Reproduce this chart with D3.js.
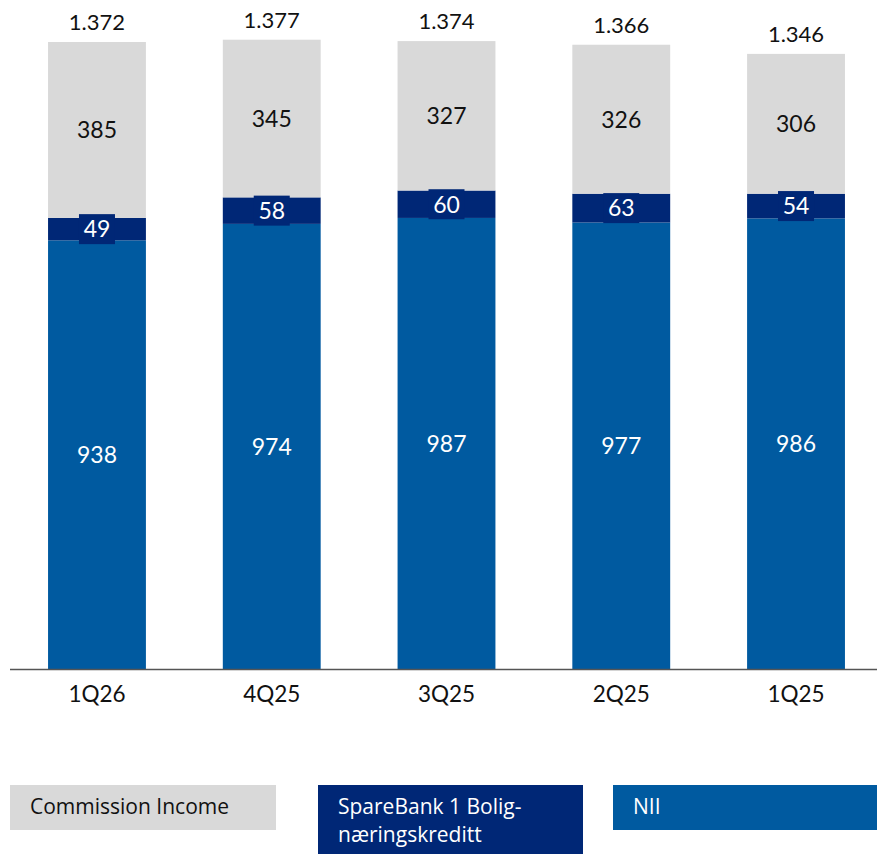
<!DOCTYPE html>
<html>
<head>
<meta charset="utf-8">
<script src="https://cdn.jsdelivr.net/npm/d3@7"></script>
<style>
  body { margin: 0; background: #fff; }
  svg { display: block; font-family: Lato, "Open Sans", sans-serif; }
  .legend-text { font-family: "Open Sans", sans-serif; }
</style>
</head>
<body>
<div id="container"></div>
<script>
const quarters = ["1Q26", "4Q25", "3Q25", "2Q25", "1Q25"];
const nii = [938, 974, 987, 977, 986];
const boligKreditt = [49, 58, 60, 63, 54];
const commission = [385, 345, 327, 326, 306];
const totals = ["1.372", "1.377", "1.374", "1.366", "1.346"];

const colors = { nii: "#005aa0", bolig: "#002776", commission: "#d9d9d9" };

const width = 877, height = 854;
const baseline = 669;

const data = quarters.map((q, i) => ({
    quarter: q,
    nii: nii[i],
    bolig: boligKreditt[i],
    commission: commission[i],
    total: totals[i]
}));

const svg = d3.select("#container").append("svg")
    .attr("width", width)
    .attr("height", height);

const xScale = d3.scaleBand()
    .range([9.6, 883.4])
    .domain(quarters)
    .paddingInner(0.44)
    .paddingOuter(0.22);

const yScale = d3.scaleLinear()
    .range([baseline, 42])
    .domain([0, 1372]);

const keys = ["nii", "bolig", "commission"];
const stacked = d3.stack().keys(keys)(data);

// bars
svg.append("g")
  .selectAll("g")
  .data(stacked)
  .enter()
  .append("g")
    .attr("fill", s => colors[s.key])
  .selectAll("rect")
  .data(s => s)
  .enter()
  .append("rect")
    .attr("x", d => xScale(d.data.quarter))
    .attr("y", d => yScale(d[1]))
    .attr("height", d => yScale(d[0]) - yScale(d[1]))
    .attr("width", xScale.bandwidth());

// segment labels
const labels = svg.append("g").attr("text-anchor", "middle").style("font-size", "23px");
stacked.forEach(s => {
    s.forEach(d => {
        const cx = xScale(d.data.quarter) + xScale.bandwidth() / 2;
        const cy = (yScale(d[0]) + yScale(d[1])) / 2;
        if (s.key === "bolig") {
            labels.append("rect")
              .attr("x", cx - 18)
              .attr("y", cy - 15)
              .attr("width", 36)
              .attr("height", 30)
              .attr("fill", colors.bolig);
        }
        labels.append("text")
          .attr("x", cx)
          .attr("y", cy)
          .attr("dy", "0.36em")
          .attr("fill", s.key === "commission" ? "#111" : "#fff")
          .text(d.data[s.key]);
    });
});

// totals
svg.append("g")
  .selectAll("text")
  .data(data)
  .enter()
  .append("text")
    .attr("x", d => xScale(d.quarter) + xScale.bandwidth() / 2)
    .attr("y", d => yScale(d.nii + d.bolig + d.commission) - 12)
    .attr("text-anchor", "middle")
    .style("font-size", "22px")
    .attr("fill", "#111")
    .text(d => d.total);

// x axis
const xAxis = svg.append("g")
    .attr("transform", `translate(0, ${baseline})`)
    .call(d3.axisBottom(xScale).tickSize(0).tickPadding(17));
xAxis.select(".domain")
    .attr("d", "M10,0.5H877")
    .attr("stroke", "#555")
    .attr("stroke-width", 1.5);
xAxis.selectAll("text")
    .style("font-size", "22.5px")
    .style("font-family", "Lato, 'Open Sans', sans-serif")
    .attr("fill", "#111");

// legend
const legendItems = [
    { x: 10, w: 266, h: 45, fill: colors.commission, color: "#111", lines: ["Commission Income"] },
    { x: 318, w: 265, h: 69, fill: colors.bolig, color: "#fff", lines: ["SpareBank 1 Bolig-", "næringskreditt"] },
    { x: 613, w: 264, h: 45, fill: colors.nii, color: "#fff", lines: ["NII"] }
];
const legend = svg.append("g").attr("transform", "translate(0, 785)");
legendItems.forEach(item => {
    legend.append("rect")
      .attr("x", item.x)
      .attr("y", 0)
      .attr("width", item.w)
      .attr("height", item.h)
      .attr("fill", item.fill);
    item.lines.forEach((line, i) => {
        legend.append("text")
          .attr("class", "legend-text")
          .attr("x", item.x + 20)
          .attr("y", 29 + i * 28)
          .attr("fill", item.color)
          .style("font-size", "21px")
          .text(line);
    });
});
</script>
</body>
</html>
